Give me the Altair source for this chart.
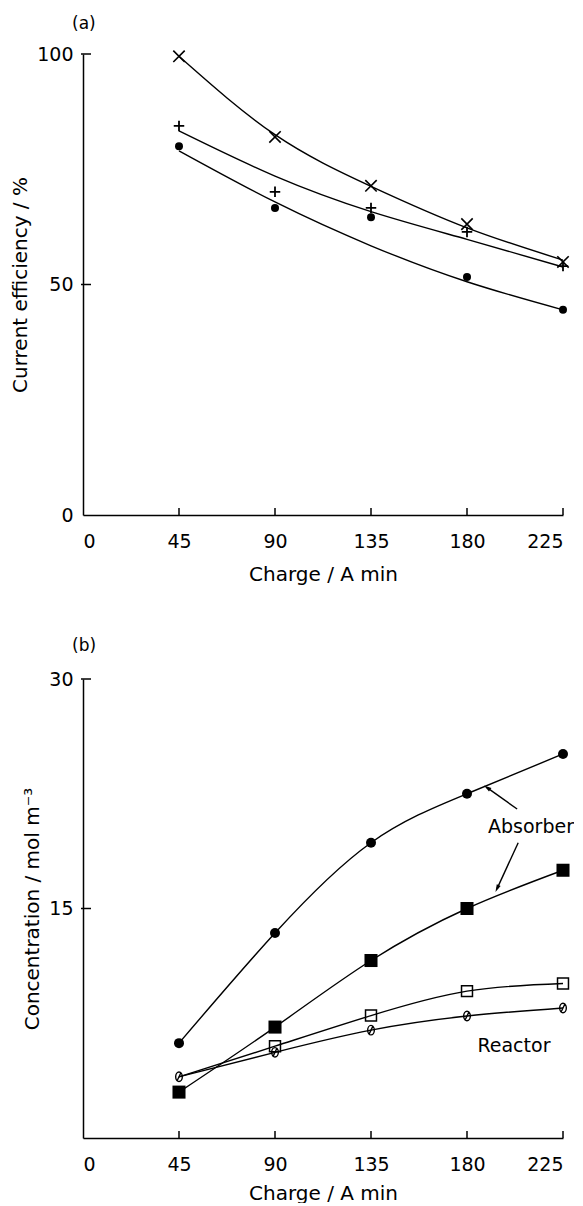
import altair as alt
import pandas as pd

FONT = "DejaVu Sans"

# ---------------- data ----------------
charge = [45, 90, 135, 180, 225]
x_ticks = [0, 45, 90, 135, 180, 225]

# panel (a): current efficiency / %
eff_cross_pts = [99.5, 82.0, 71.4, 63.1, 54.9]
eff_plus_pts = [84.4, 70.1, 66.6, 61.4, 54.0]
eff_dot_pts = [80.0, 66.6, 64.6, 51.6, 44.5]
eff_cross_fit = [99.5, 82.5, 71.3, 62.3, 55.3]
eff_plus_fit = [83.3, 73.5, 65.8, 59.8, 53.8]
eff_dot_fit = [79.0, 67.9, 58.4, 50.6, 44.5]
a_y_ticks = [0, 50, 100]

# panel (b): concentration / mol m-3
abs_circle = [6.2, 13.4, 19.3, 22.5, 25.1]
abs_square = [3.0, 7.25, 11.6, 15.0, 17.5]
reac_square = [4.0, 6.0, 8.0, 9.6, 10.1]
reac_circle = [4.0, 5.6, 7.05, 7.97, 8.5]
b_y_ticks = [15, 30]

# annotations in panel (b)
label_text = ["Absorber", "Reactor"]
label_x = [210, 202]
label_y = [20.3, 6.0]
arrow_x1 = [203.5, 204.0]
arrow_y1 = [21.5, 19.3]
arrow_x2 = [189.4, 194.1]
arrow_y2 = [22.9, 16.3]
arrow_angle = [305, 205]

W = 480
HA = 461
HB = 459

CROSS = "M-1,-1L1,1M-1,1L1,-1"
PLUS = "M-1,0L1,0M0,-1L0,1"
OSLASH = "M-0.7,0A0.7,1 0 1,0 0.7,0A0.7,1 0 1,0 -0.7,0M-0.45,0.95L0.45,-0.95"
ARROWHEAD = "M0,-1L0.55,1L-0.55,1Z"


def make_xenc(title_pad):
    def xenc(field):
        return alt.X(
            f"{field}:Q",
            scale=alt.Scale(domain=[0, 225], nice=False, zero=False),
            axis=alt.Axis(values=x_ticks, title="Charge / A min",
                          labelPadding=17, titlePadding=title_pad, format="d"),
        )
    return xenc


def yenc(field, domain, ticks, title):
    return alt.Y(
        f"{field}:Q",
        scale=alt.Scale(domain=domain, nice=False, zero=False),
        axis=alt.Axis(values=ticks, title=title, labelPadding=10,
                      titlePadding=6, format="d"),
    )


def series_df(values):
    return pd.DataFrame({"charge": charge, "v": values})


def panel(domain, ticks, ytitle, H, xtitle_pad, layers_fn):
    xenc = make_xenc(xtitle_pad)
    Y = lambda f: yenc(f, domain, ticks, ytitle)
    xt = pd.DataFrame({"charge": x_ticks[1:]})
    yt = pd.DataFrame({"v": [t for t in ticks if t != 0]})
    tick_x = alt.Chart(xt).mark_rule(color="black", strokeWidth=1.5).encode(
        x=xenc("charge"), y=alt.value(H), y2=alt.value(H - 7))
    tick_y = alt.Chart(yt).mark_rule(color="black", strokeWidth=1.5).encode(
        y=Y("v"), x=alt.value(-2), x2=alt.value(8))
    return [tick_x, tick_y] + layers_fn(xenc, Y)


def line(values, xenc, Y):
    return alt.Chart(series_df(values)).mark_line(
        color="black", strokeWidth=1.4, interpolate="natural").encode(
        x=xenc("charge"), y=Y("v"))


def points(values, xenc, Y, shape, size, filled, sw=1.5):
    return alt.Chart(series_df(values)).mark_point(
        shape=shape, size=size, filled=filled, color="black",
        strokeWidth=sw, opacity=1).encode(x=xenc("charge"), y=Y("v"))


def layers_a(xenc, Y):
    return [
        line(eff_cross_fit, xenc, Y), line(eff_plus_fit, xenc, Y),
        line(eff_dot_fit, xenc, Y),
        points(eff_cross_pts, xenc, Y, CROSS, 130, False, 1.6),
        points(eff_plus_pts, xenc, Y, PLUS, 110, False, 1.8),
        points(eff_dot_pts, xenc, Y, "circle", 64, True),
    ]


def layers_b(xenc, Y):
    rs = series_df(reac_square)
    rs_marks = rs[rs["charge"] > 45]
    ann = pd.DataFrame({"t": label_text, "charge": label_x, "v": label_y})
    arr = pd.DataFrame({"x1": arrow_x1, "y1": arrow_y1, "x2": arrow_x2,
                        "y2": arrow_y2, "ang": arrow_angle})
    return [
        line(abs_circle, xenc, Y), line(abs_square, xenc, Y),
        line(reac_square, xenc, Y), line(reac_circle, xenc, Y),
        points(abs_circle, xenc, Y, "circle", 100, True),
        points(abs_square, xenc, Y, "square", 170, True),
        alt.Chart(rs_marks).mark_point(shape="square", size=120, filled=False,
                                       color="black", strokeWidth=1.5,
                                       opacity=1).encode(x=xenc("charge"), y=Y("v")),
        points(reac_circle, xenc, Y, OSLASH, 90, False, 1.4),
        alt.Chart(ann).mark_text(font=FONT, fontSize=19, color="black").encode(
            x=xenc("charge"), y=Y("v"), text="t:N"),
        alt.Chart(arr).mark_rule(color="black", strokeWidth=1.4).encode(
            x=xenc("x1"), y=Y("y1"), x2="x2:Q", y2="y2:Q"),
        alt.Chart(arr).mark_point(shape=ARROWHEAD, size=60, filled=True,
                                  color="black", opacity=1).encode(
            x=xenc("x2"), y=Y("y2"), angle=alt.Angle("ang:Q", scale=None)),
    ]


def title(txt, off):
    return alt.TitleParams(txt, anchor="start", frame="group", font=FONT,
                           fontSize=17, fontWeight="normal", dx=-11,
                           offset=off, color="black")


chart_a = alt.layer(*panel([0, 100], a_y_ticks, "Current efficiency / %", HA,
                           13, layers_a)).properties(
    width=W, height=HA, title=title("(a)", 12))

chart_b = alt.layer(*panel([0, 30], b_y_ticks, "Concentration / mol m⁻³", HB,
                           9, layers_b)).properties(
    width=W, height=HB, title=title("(b)", 15))

chart = alt.vconcat(chart_a, chart_b, spacing=53).properties(
    padding={"left": 2, "top": 7, "right": 0, "bottom": 0}
).configure_view(stroke=None).configure_axis(
    labelFont=FONT, labelFontSize=19, labelColor="black",
    titleFont=FONT, titleFontSize=20, titleFontWeight="normal",
    titleColor="black", domainColor="black", domainWidth=1.5,
    ticks=False, tickSize=0, grid=False,
)

chart.save("out.html", embed_options={"renderer": "svg", "actions": False})
